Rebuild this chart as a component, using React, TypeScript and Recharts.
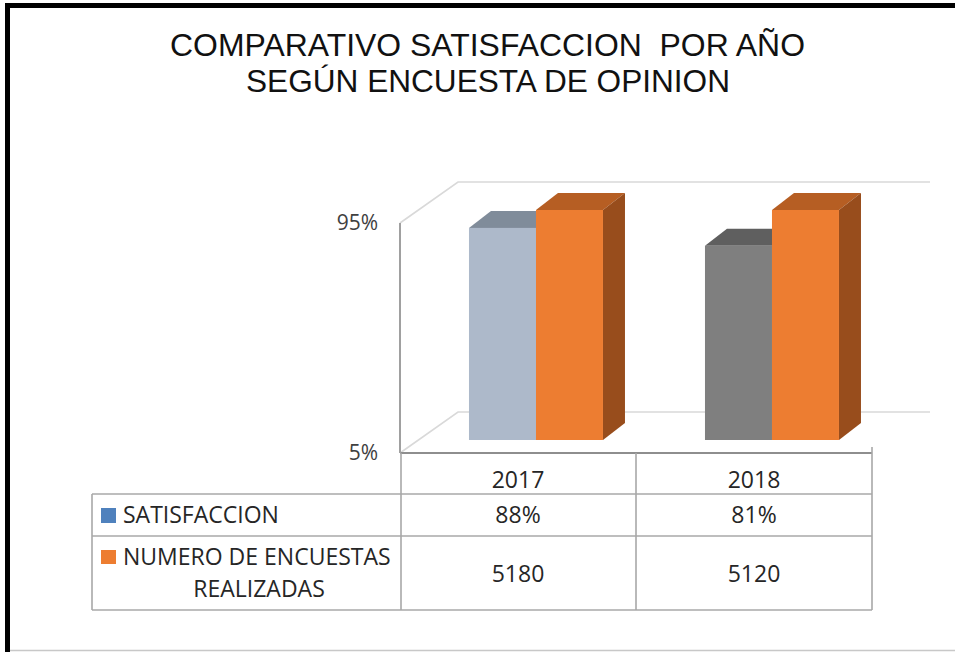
import React from 'react';
import { BarChart, Bar, XAxis, YAxis, CartesianGrid } from 'recharts';

// ---------- data ----------
const YEARS = ['2017', '2018'];
const SATISFACCION = [88, 81]; // %
const ENCUESTAS = [5180, 5120]; // number of surveys (plotted on the % axis, clipped at the top)
const Y_TICKS = [5, 95];
const TITLE_LINES = ['COMPARATIVO SATISFACCION  POR AÑO', 'SEGÚN ENCUESTA DE OPINION'];
const SERIES_LABELS = ['SATISFACCION', 'NUMERO DE ENCUESTAS', 'REALIZADAS'];

const Y_MIN = Y_TICKS[0];
const Y_MAX = Y_TICKS[Y_TICKS.length - 1];

const chartData = YEARS.map((year, i) => ({
  year,
  sat: SATISFACCION[i],
  enc: Math.min(ENCUESTAS[i], Y_MAX),
}));

// ---------- styles / layout ----------
const W = 955;
const H = 652;
const PLOT_L = 400;
const PLOT_R = 872;
const PLOT_T = 223;
const PLOT_B = 453;
const Y_AXIS_W = 60;
const X_AXIS_H = 1;

const WALL_DX = 58; // full depth of the 3D box
const WALL_DY = 41;
const BAR_SHIFT_X = 18; // bar front face offset into the box
const BAR_SHIFT_Y = 13;
const BAR_DX = 22; // bar thickness
const BAR_DY = 17;

const SAT_FRONT = ['#ADB9CA', '#7F7F7F'];
const SAT_TOP = ['#808C9A', '#5F5F5F'];
const SAT_SIDE = ['#6E7884', '#505050'];
const ENC_FRONT = ['#ED7D31', '#ED7D31'];
const ENC_TOP = ['#B65E23', '#B65E23'];
const ENC_SIDE = ['#984D1C', '#984D1C'];

const TEXT = '#262626';
const FONT = '"Open Sans", "Liberation Sans", sans-serif';
const TITLE_FONT = '"Liberation Sans Narrow", "Liberation Sans", Arial, sans-serif';
const TABLE_LINE = '#A8A8A8';
const AXIS_LINE = '#8E8E8E';
const GRID_LINE = '#D9D9D9';

function makeBar3D(front: string[], top: string[], side: string[]) {
  return (props: any) => {
    const { x, y, width, height, index } = props;
    if (x == null || y == null || !width || height == null) return <g />;
    const i = index ?? 0;
    const fx = x + BAR_SHIFT_X;
    const fy = y - BAR_SHIFT_Y;
    const r = fx + width;
    const b = fy + height;
    return (
      <g>
        <polygon
          points={`${fx},${fy} ${fx + BAR_DX},${fy - BAR_DY} ${r + BAR_DX},${fy - BAR_DY} ${r},${fy}`}
          fill={top[i % top.length]}
        />
        <polygon
          points={`${r},${fy} ${r + BAR_DX},${fy - BAR_DY} ${r + BAR_DX},${b - BAR_DY} ${r},${b}`}
          fill={side[i % side.length]}
        />
        <rect x={fx} y={fy} width={width} height={height} fill={front[i % front.length]} />
      </g>
    );
  };
}

const GridLine3D = (p: any) => {
  const { x1, y1, x2, index } = p;
  if (x1 == null || y1 == null) return <g key={`gl-${index}`} />;
  const d = `M${x1},${y1} L${x1 + WALL_DX},${y1 - WALL_DY} L${x2 + WALL_DX},${y1 - WALL_DY}`;
  return <path key={`gl-${index}`} d={d} stroke={GRID_LINE} strokeWidth={1.6} fill="none" />;
};

const TableTick = (p: any) => {
  const { x, payload } = p;
  const i = payload?.index ?? YEARS.indexOf(payload?.value);
  const base = PLOT_B;
  return (
    <g fontFamily={FONT} fontSize={23} fill={TEXT} textAnchor="middle">
      <text x={x} y={base + 35} fill={TEXT} textAnchor="middle">{payload?.value}</text>
      <text x={x} y={base + 70} fill={TEXT} textAnchor="middle">{`${SATISFACCION[i]}%`}</text>
      <text x={x} y={base + 129} fill={TEXT} textAnchor="middle">{`${ENCUESTAS[i]}`}</text>
    </g>
  );
};

export default function App() {
  const tableTop = PLOT_B;
  const row1 = 494;
  const row2 = 536;
  const tableBottom = 610;
  const tableLeft = 92;
  const mid = (PLOT_L + PLOT_R) / 2;

  return (
    <div style={{ position: 'absolute', left: 0, top: 0, width: W, height: H, background: '#fff', overflow: 'hidden' }}>
      {/* background layer: frame + title */}
      <svg width={W} height={H} style={{ position: 'absolute', left: 0, top: 0 }}>
        <rect x={5} y={3} width={5} height={H - 3} fill="#000" />
        <rect x={5} y={3} width={W - 5} height={5} fill="#000" />
        <line x1={10} y1={650.5} x2={W} y2={650.5} stroke="#C8C8C8" strokeWidth={1.5} />
        <text
          x={170}
          y={56}
          fontFamily={TITLE_FONT}
          fontSize={31}
          fill="#111"
          textLength={635}
          lengthAdjust="spacingAndGlyphs"
          style={{ whiteSpace: 'pre' }}
        >
          {TITLE_LINES[0]}
        </text>
        <text
          x={246}
          y={92}
          fontFamily={TITLE_FONT}
          fontSize={31}
          fill="#111"
          textLength={484}
          lengthAdjust="spacingAndGlyphs"
          style={{ whiteSpace: 'pre' }}
        >
          {TITLE_LINES[1]}
        </text>
      </svg>

      {/* chart layer */}
      <div style={{ position: 'absolute', left: 0, top: 0 }}>
        <BarChart
          width={W}
          height={H}
          data={chartData}
          margin={{ top: PLOT_T, right: W - PLOT_R, bottom: H - PLOT_B - X_AXIS_H, left: PLOT_L - Y_AXIS_W }}
          barCategoryGap="21.6%"
          barGap={0}
        >
          <CartesianGrid vertical={false} horizontal={GridLine3D as any} />
          <XAxis
            dataKey="year"
            height={X_AXIS_H}
            axisLine={{ stroke: AXIS_LINE, strokeWidth: 2 }}
            tickLine={false}
            tickSize={0}
            tickMargin={0}
            tick={TableTick as any}
            interval={0}
          />
          <YAxis
            width={Y_AXIS_W}
            domain={[Y_MIN, Y_MAX]}
            ticks={Y_TICKS}
            axisLine={{ stroke: '#A0A0A0', strokeWidth: 2 }}
            tickLine={false}
            tickSize={0}
            tickMargin={22}
            tickFormatter={(v: number) => `${v}%`}
            tick={{ fill: '#404040', fontSize: 21, fontFamily: FONT }}
          />
          <Bar dataKey="sat" isAnimationActive={false} shape={makeBar3D(SAT_FRONT, SAT_TOP, SAT_SIDE)} />
          <Bar dataKey="enc" isAnimationActive={false} shape={makeBar3D(ENC_FRONT, ENC_TOP, ENC_SIDE)} />
        </BarChart>
      </div>

      {/* data table layer */}
      <svg width={W} height={H} style={{ position: 'absolute', left: 0, top: 0, pointerEvents: 'none' }}>
        <g stroke={TABLE_LINE} strokeWidth={1.6} fill="none">
          <line x1={PLOT_L + 1} y1={tableTop} x2={PLOT_L + 1} y2={tableBottom} />
          <line x1={mid} y1={tableTop} x2={mid} y2={tableBottom} />
          <line x1={PLOT_R} y1={tableTop - 6} x2={PLOT_R} y2={tableBottom} />
          <line x1={tableLeft} y1={row1} x2={tableLeft} y2={tableBottom} />
          <line x1={tableLeft} y1={row1} x2={PLOT_R} y2={row1} />
          <line x1={tableLeft} y1={row2} x2={PLOT_R} y2={row2} />
          <line x1={tableLeft} y1={tableBottom} x2={PLOT_R} y2={tableBottom} />
        </g>
        <rect x={101} y={508} width={15} height={15} fill="#4F81BD" />
        <rect x={101} y={550} width={15} height={14} fill="#ED7D31" />
        <g fontFamily={FONT} fontSize={23} fill={TEXT}>
          <text x={123} y={523}>{SERIES_LABELS[0]}</text>
          <text x={123} y={565}>{SERIES_LABELS[1]}</text>
          <text x={259} y={597} textAnchor="middle">{SERIES_LABELS[2]}</text>
        </g>
      </svg>
    </div>
  );
}
